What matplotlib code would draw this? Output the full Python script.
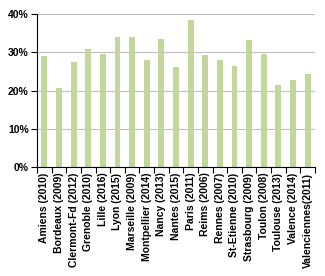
import matplotlib
matplotlib.use("Agg")
import matplotlib.pyplot as plt
from matplotlib.ticker import FixedLocator, PercentFormatter

plt.rcParams['font.family'] = ['Liberation Sans', 'DejaVu Sans']

cities = ["Amiens (2010)", "Bordeaux (2009)", "Clermont-Fd (2012)", "Grenoble (2010)",
          "Lille (2016)", "Lyon (2015)", "Marseille (2009)", "Montpellier (2014)",
          "Nancy (2013)", "Nantes (2015)", "Paris (2011)", "Reims (2006)",
          "Rennes (2007)", "St-Etienne (2010)", "Strasbourg (2009)", "Toulon (2008)",
          "Toulouse (2013)", "Valence (2014)", "Valenciennes(2011)"]
shares = [29.1, 20.7, 27.5, 30.9, 29.6, 34.1, 34.1, 28.0, 33.5, 26.2,
          38.5, 29.3, 28.0, 26.5, 33.3, 29.6, 21.5, 22.8, 24.4]
yticks = [0, 10, 20, 30, 40]

fig = plt.figure(figsize=(3.25, 2.76), dpi=100)
ax = fig.add_axes([0.114, 0.395, 0.855, 0.554])

x = range(len(cities))
ax.bar(x, shares, width=0.4, color='#c3d69b', zorder=3)

ax.set_xlim(-0.5, len(cities) - 0.5)
ax.set_ylim(0, 40)
ax.set_yticks(yticks)
ax.yaxis.set_major_formatter(PercentFormatter(decimals=0))
ax.grid(axis='y', color='#bfbfbf', linewidth=0.8, zorder=0)

ax.set_xticks(list(x))
ax.set_xticklabels(cities, rotation=90, fontsize=7.5, fontweight='bold')
ax.tick_params(axis='x', length=0, pad=4)
ax.xaxis.set_minor_locator(FixedLocator([i - 0.5 for i in range(len(cities) + 1)]))
ax.tick_params(axis='x', which='minor', length=4, width=0.8, color='black')
ax.tick_params(axis='y', length=4, width=0.8, labelsize=7.5, pad=2)
for lab in ax.get_yticklabels():
    lab.set_fontweight('bold')

for s in ['top', 'right']:
    ax.spines[s].set_visible(False)
for s in ['left', 'bottom']:
    ax.spines[s].set_linewidth(0.8)
    ax.spines[s].set_zorder(4)

fig.savefig("out.png", dpi=100)
